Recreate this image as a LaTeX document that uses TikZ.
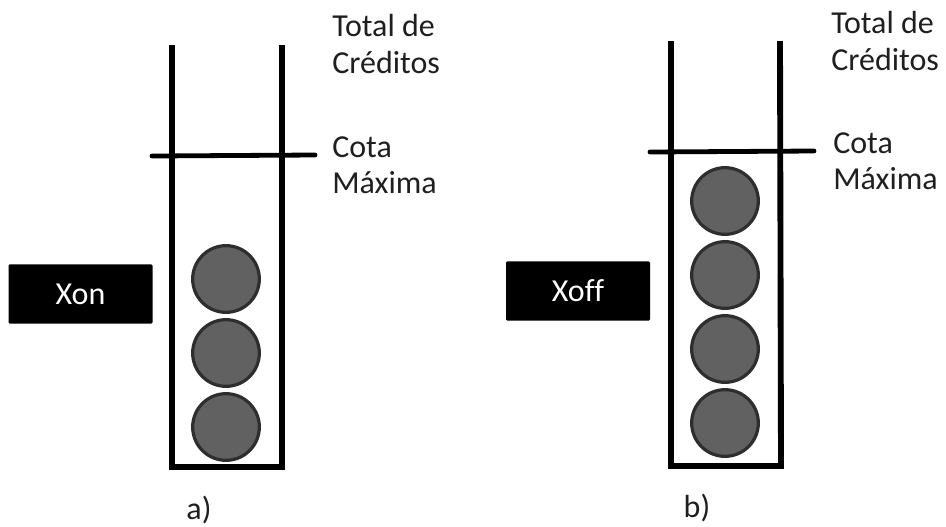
\documentclass[tikz,border=0pt]{standalone}
\usepackage{fontspec}
\setmainfont[Ligatures=NoCommon]{Carlito}
\tikzset{
 ball/.style={circle,draw=black!82,line width=2.4pt,fill=black!62,minimum size=50pt,inner sep=0pt},
 lbl/.style={font=\fontsize{24}{27.7}\selectfont,text=black!88,align=left,anchor=north west,inner sep=0pt},
 blk/.style={fill=black,rounded corners=1pt,text=white,font=\fontsize{24}{27}\selectfont,minimum width=108pt,minimum height=44.5pt,inner sep=0pt},
 wall/.style={line width=4.4pt,black},
 bar/.style={line width=3.6pt,line cap=round,black},
 sublabel/.style={font=\fontsize{24}{27}\selectfont,text=black!88,inner sep=0pt}
}
\begin{document}
\begin{tikzpicture}[x=0.75pt,y=-0.75pt]
\useasboundingbox (0,0) rectangle (946,526);
\coordinate (a1) at (172,45); \coordinate (a2) at (172,467); \coordinate (a3) at (282,467); \coordinate (a4) at (282,45);
\draw[wall] (a1)--(a2)--(a3)--(a4);
\coordinate (al) at (152,156); \coordinate (ar) at (315,155);
\draw[bar] (al)--(ar);
\node[ball] (a-b1) at (226,279) {};
\node[ball] (a-b2) at (226,353) {};
\node[ball] (a-b3) at (226,427) {};
\node[blk] (xon) at (80.5,294) {Xon};
\node[lbl] (a-t) at (332,14) {Total de\\Créditos};
\node[lbl] (a-c) at (332,136) {Cota\\Máxima};
\node[sublabel] (a-cap) at (199,510) {a)};
\coordinate (b1) at (671,41); \coordinate (b2) at (671,466); \coordinate (b3) at (781,466); \coordinate (b4) at (780,41);
\draw[wall] (b1)--(b2)--(b3)--(b4);
\coordinate (bl) at (650,152); \coordinate (br) at (814,151);
\draw[bar] (bl)--(br);
\node[ball] (b-b1) at (725,201) {};
\node[ball] (b-b2) at (725,275) {};
\node[ball] (b-b3) at (725,349) {};
\node[ball] (b-b4) at (725,423) {};
\node[blk] (xoff) at (578,291) {Xoff};
\node[lbl] (b-t) at (831,11) {Total de\\Créditos};
\node[lbl] (b-c) at (833,132) {Cota\\Máxima};
\node[sublabel] (b-cap) at (697,508) {b)};
\end{tikzpicture}
\end{document}
